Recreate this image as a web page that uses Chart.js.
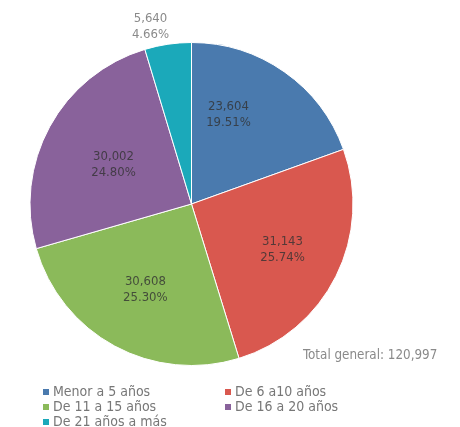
<!DOCTYPE html>
<html>
<head>
<meta charset="utf-8">
<script src="https://cdn.jsdelivr.net/npm/chart.js@4"></script>
<style>
  body { margin: 0; background: #fff; font-family: "DejaVu Sans Condensed", "DejaVu Sans", sans-serif; }
  #wrap { position: relative; width: 460px; height: 427px; }
  #total { position: absolute; left: 303px; top: 347px; font-size: 13.3px; color: #8a8a8a; }
  #legend { position: absolute; left: 43px; top: 384px; font-size: 14px; color: #777; }
  .item { position: absolute; white-space: nowrap; line-height: 15px; }
  .box { display: inline-block; width: 6px; height: 6px; margin-right: 4px; vertical-align: 1px; }
</style>
</head>
<body>
<div id="wrap">
  <canvas id="chart" width="460" height="427"></canvas>
  <div id="total">Total general: 120,997</div>
  <div id="legend"></div>
</div>
<script>
// data
const categories = ["Menor a 5 años", "De 6 a10 años", "De 11 a 15 años", "De 16 a 20 años", "De 21 años a más"];
const values = [23604, 31143, 30608, 30002, 5640];
const percents = ["19.51%", "25.74%", "25.30%", "24.80%", "4.66%"];
const colors = ["#4a7aae", "#d9584f", "#8bba5a", "#89629b", "#1ba9ba"];

// label placement (fraction of radius, angle nudge in degrees)
const labelRadius = [0.6, 0.63, 0.6, 0.54, 1.13];
const labelNudge = [-12.7, 0, 0, -2, -4.6];

const sliceLabels = {
  id: 'sliceLabels',
  afterDatasetsDraw(chart) {
    const ctx = chart.ctx;
    const meta = chart.getDatasetMeta(0);
    ctx.save();
    ctx.font = '13px "DejaVu Sans Condensed", "DejaVu Sans", sans-serif';
    ctx.textAlign = 'center';
    ctx.textBaseline = 'middle';
    meta.data.forEach(function(arc, i) {
      const mid = (arc.startAngle + arc.endAngle) / 2 + labelNudge[i] * Math.PI / 180;
      const r = arc.outerRadius * labelRadius[i];
      const x = arc.x + Math.cos(mid) * r;
      const y = arc.y + Math.sin(mid) * r;
      ctx.fillStyle = labelRadius[i] > 1 ? '#8a8a8a' : 'rgba(50,50,50,0.8)';
      ctx.fillText(values[i].toLocaleString('en-US'), x, y - 8);
      ctx.fillText(percents[i], x, y + 8);
    });
    ctx.restore();
  }
};

new Chart(document.getElementById('chart'), {
  type: 'pie',
  data: {
    labels: categories,
    datasets: [{
      data: values,
      backgroundColor: colors,
      borderColor: '#ffffff',
      borderWidth: 1
    }]
  },
  options: {
    responsive: false,
    animation: false,
    layout: { padding: { left: 29.5, top: 42, right: 106.5, bottom: 61 } },
    plugins: {
      legend: { display: false },
      tooltip: { enabled: false }
    }
  },
  plugins: [sliceLabels]
});

// legend, two columns
const legend = document.getElementById('legend');
categories.forEach(function(name, i) {
  const item = document.createElement('div');
  item.className = 'item';
  item.style.left = (i % 2 ? 182 : 0) + 'px';
  item.style.top = (Math.floor(i / 2) * 15) + 'px';
  item.innerHTML = '<span class="box" style="background:' + colors[i] + '"></span>' + name;
  legend.appendChild(item);
});
</script>
</body>
</html>
